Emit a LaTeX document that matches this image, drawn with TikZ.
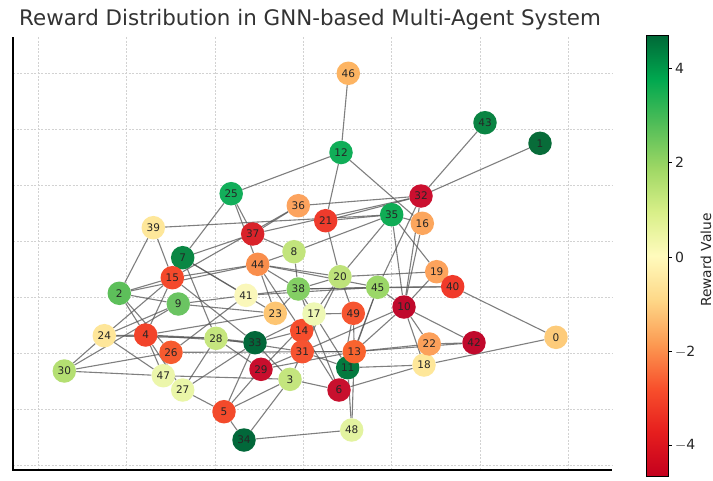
\documentclass[tikz,border=0pt]{standalone}
\usepackage{fontspec}
\setmainfont{DejaVu Sans}
\pgfdeclarelayer{back}
\pgfdeclarelayer{bg}
\pgfsetlayers{back,bg,main}
\def\cdef#1#2{\definecolor{#1}{HTML}{#2}}
\cdef{c0}{FDCB7A}\cdef{c1}{086C39}\cdef{c2}{5DBF5A}\cdef{c3}{C4E57E}\cdef{c4}{F2432A}
\cdef{c5}{F34A2B}\cdef{c6}{C8102E}\cdef{c7}{0A8744}\cdef{c8}{C2E47C}\cdef{c9}{6BC462}
\cdef{c10}{C0092C}\cdef{c11}{037A3F}\cdef{c12}{10AE58}\cdef{c13}{F9642F}\cdef{c14}{F64D2C}
\cdef{c15}{F4492B}\cdef{c16}{FCA65D}\cdef{c17}{EEF8B4}\cdef{c18}{FEE79A}\cdef{c19}{FDA35C}
\cdef{c20}{BEE27A}\cdef{c21}{EE3B2C}\cdef{c22}{FCA05A}\cdef{c23}{FDC572}\cdef{c24}{FEE699}
\cdef{c25}{12AE5A}\cdef{c26}{F65A2F}\cdef{c27}{EAF6A8}\cdef{c28}{C6E67E}\cdef{c29}{C80E2D}
\cdef{c30}{B4DF72}\cdef{c31}{F65331}\cdef{c32}{CB0F2F}\cdef{c33}{02683A}\cdef{c34}{02683A}
\cdef{c35}{10AC55}\cdef{c36}{FCA35E}\cdef{c37}{D9232A}\cdef{c38}{84CF64}\cdef{c39}{FEE79A}
\cdef{c40}{F03A2A}\cdef{c41}{FAF7BA}\cdef{c42}{C0092C}\cdef{c43}{0A8443}\cdef{c44}{F98E4C}
\cdef{c45}{9BD768}\cdef{c46}{FDB462}\cdef{c47}{ECF6AB}\cdef{c48}{E3F3A0}\cdef{c49}{F65530}
\cdef{s0}{C4001E}\cdef{s1}{E61E1E}\cdef{s2}{F8502C}\cdef{s3}{FC9A52}\cdef{s4}{FED888}
\cdef{s5}{FFFBBD}\cdef{s6}{D8EF88}\cdef{s7}{9DD764}\cdef{s8}{50BD58}\cdef{s9}{00A84F}\cdef{s10}{006837}
\cdef{gridc}{D2D2D2}\cdef{edgec}{555555}\cdef{titlec}{333333}
\tikzset{
  agent/.style={circle,fill=#1,draw=none,minimum size=23.5pt,inner sep=0pt,font=\fontsize{10.5}{10.5}\selectfont,text=black!85},
  gridline/.style={gridc,line width=0.8pt,dash pattern=on 2pt off 1.5pt},
  spine/.style={black,line width=1.2pt},
  edge/.style={edgec,opacity=0.75,line width=1.1pt},
  ticklab/.style={anchor=west,font=\fontsize{14}{14}\selectfont,text=black!85,inner sep=0pt}
}
\begin{document}
\begin{tikzpicture}[x=1pt,y=-1pt]
\useasboundingbox (0,0) rectangle (713,480);
\begin{pgfonlayer}{back}
\fill[white] (0,0) rectangle (713,480);
% grid
\foreach \gx in {38.3,126.6,215,303.3,391.6,480,568.3}
  \draw[gridline] (\gx,37) -- (\gx,469);
\foreach \gy in {73.7,129.7,185.7,241.7,297.7,353.7,409.7,465.7}
  \draw[gridline] (13,\gy) -- (612,\gy);
\end{pgfonlayer}
% title
\node[anchor=west,text=titlec,font=\fontsize{21.4}{21.4}\selectfont,inner sep=0pt] (title) at (19,20) {Reward Distribution in GNN-based Multi-Agent System};
\draw[spine] (13,37) -- (13,470) -- (612,470);
% nodes
\node[agent=c0] (n0) at (556,337.3) {0};
\node[agent=c1] (n1) at (540,143.3) {1};
\node[agent=c2] (n2) at (119.3,293.3) {2};
\node[agent=c3] (n3) at (290,379.3) {3};
\node[agent=c4] (n4) at (145.7,335) {4};
\node[agent=c5] (n5) at (224,411.7) {5};
\node[agent=c6] (n6) at (339,390) {6};
\node[agent=c7] (n7) at (182.7,257.7) {7};
\node[agent=c8] (n8) at (294,251.7) {8};
\node[agent=c9] (n9) at (178.3,304) {9};
\node[agent=c10] (n10) at (404,307) {10};
\node[agent=c11] (n11) at (347.7,367.7) {11};
\node[agent=c12] (n12) at (341,152.5) {12};
\node[agent=c13] (n13) at (354.3,351.7) {13};
\node[agent=c14] (n14) at (301.7,330.7) {14};
\node[agent=c15] (n15) at (172.3,277.7) {15};
\node[agent=c16] (n16) at (422.3,223.3) {16};
\node[agent=c17] (n17) at (314,314) {17};
\node[agent=c18] (n18) at (424,365) {18};
\node[agent=c19] (n19) at (436.7,271.7) {19};
\node[agent=c20] (n20) at (340,276.7) {20};
\node[agent=c21] (n21) at (325.7,220.7) {21};
\node[agent=c22] (n22) at (429.3,344) {22};
\node[agent=c23] (n23) at (275.3,313.3) {23};
\node[agent=c24] (n24) at (104.3,335.7) {24};
\node[agent=c25] (n25) at (231.2,193.7) {25};
\node[agent=c26] (n26) at (171,352.3) {26};
\node[agent=c27] (n27) at (182.7,390) {27};
\node[agent=c28] (n28) at (216,338.3) {28};
\node[agent=c29] (n29) at (261,369.3) {29};
\node[agent=c30] (n30) at (64.3,371) {30};
\node[agent=c31] (n31) at (302.3,351.7) {31};
\node[agent=c32] (n32) at (421,196) {32};
\node[agent=c33] (n33) at (255,342.7) {33};
\node[agent=c34] (n34) at (244,440) {34};
\node[agent=c35] (n35) at (391.7,214.7) {35};
\node[agent=c36] (n36) at (298.3,205.7) {36};
\node[agent=c37] (n37) at (252.7,234) {37};
\node[agent=c38] (n38) at (298.3,289) {38};
\node[agent=c39] (n39) at (153.3,227.7) {39};
\node[agent=c40] (n40) at (452.7,286.7) {40};
\node[agent=c41] (n41) at (246,295.3) {41};
\node[agent=c42] (n42) at (474,342.7) {42};
\node[agent=c43] (n43) at (485,122.7) {43};
\node[agent=c44] (n44) at (257.7,264.3) {44};
\node[agent=c45] (n45) at (377.7,287.3) {45};
\node[agent=c46] (n46) at (348.3,73.3) {46};
\node[agent=c47] (n47) at (163.3,375.7) {47};
\node[agent=c48] (n48) at (351.7,430) {48};
\node[agent=c49] (n49) at (353.3,313.3) {49};
% edges
\begin{pgfonlayer}{bg}
\foreach \a/\b in {46/12,12/25,12/21,12/16,43/32,1/32,32/36,32/37,32/21,32/45,32/10,
 35/16,35/19,35/21,35/8,35/20,35/10,36/37,36/15,39/35,39/2,39/15,25/37,25/44,25/7,
 7/37,7/28,7/41,7/23,15/2,15/24,15/4,15/44,15/33,2/4,2/26,2/9,2/44,9/41,9/24,9/30,9/23,
 24/30,24/4,24/47,24/28,4/47,4/27,4/28,4/33,4/23,26/41,26/47,26/13,26/30,28/27,28/33,
 28/29,28/31,47/30,47/3,27/5,27/33,8/37,8/38,8/44,44/20,44/45,44/38,44/14,44/23,
 20/21,20/38,20/19,20/17,20/49,20/31,38/41,38/45,38/17,38/23,38/6,41/45,45/10,45/13,
 45/11,45/40,10/22,10/42,10/18,10/13,10/31,10/16,17/49,17/31,17/11,17/33,17/29,49/6,
 49/13,14/31,14/6,14/33,31/13,31/3,31/11,13/22,13/42,13/29,13/48,11/48,11/18,6/18,6/3,
 3/34,3/5,3/33,29/5,29/31,34/48,34/5,18/0,40/0,42/22,19/40,19/10,40/38,22/18,5/33}
  \draw[edge] (n\a) -- (n\b);
\end{pgfonlayer}
% colorbar
\foreach \i [evaluate=\i as \ytop using {476-\i*44.1}, evaluate=\i as \ybot using {476-(\i-1)*44.1}, evaluate=\i as \j using {int(\i-1)}] in {1,...,10}
  \shade[top color=s\i, bottom color=s\j, shading angle=0] (646,\ytop) rectangle (668,\ybot+0.3);
\draw[black,line width=0.7pt] (646,35) rectangle (668,476);
\coordinate (cb4) at (668,68.3);
\coordinate (cb2) at (668,162.7);
\coordinate (cb0) at (668,257.3);
\coordinate (cbm2) at (668,351.7);
\coordinate (cbm4) at (668,445);
\foreach \c/\t in {cb4/4,cb2/2,cb0/0,cbm2/{$-$2},cbm4/{$-$4}}{
  \draw[black,line width=0.7pt] (\c) -- ++(3.5,0);
  \node[ticklab] at ([xshift=7pt]\c) {\t};
}
\node[rotate=90,font=\fontsize{13.8}{13.8}\selectfont,text=black!85] (cblabel) at (706,260) {Reward Value};
\end{tikzpicture}
\end{document}
